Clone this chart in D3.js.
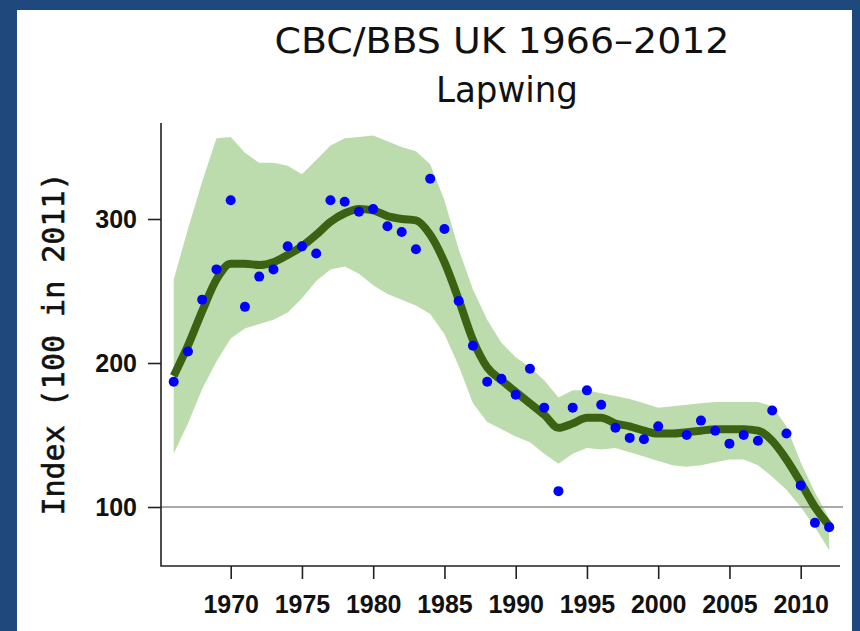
<!DOCTYPE html>
<html>
<head>
<meta charset="utf-8">
<script src="https://cdn.jsdelivr.net/npm/d3@7"></script>
<style>
  body { margin: 0; background: #1f497d; }
  #chart svg { display: block; }
</style>
</head>
<body>
<div id="chart"></div>
<script>
// years of the survey
var years = [1966, 1967, 1968, 1969, 1970, 1971, 1972, 1973, 1974, 1975,
             1976, 1977, 1978, 1979, 1980, 1981, 1982, 1983, 1984, 1985,
             1986, 1987, 1988, 1989, 1990, 1991, 1992, 1993, 1994, 1995,
             1996, 1997, 1998, 1999, 2000, 2001, 2002, 2003, 2004, 2005,
             2006, 2007, 2008, 2009, 2010, 2011, 2012];

// annual index (no survey in 2001)
var annual = [187, 208, 244, 265, 313, 239, 260, 265, 281, 281,
              276, 313, 312, 305, 307, 295, 291, 279, 328, 293,
              243, 212, 187, 189, 178, 196, 169, 111, 169, 181,
              171, 155, 148, 147, 156, null, 150, 160, 153, 144,
              150, 146, 167, 151, 115, 89, 86];

// smoothed trend
var smoothed = [191, 212, 236, 258, 269, 269, 268, 270, 275, 281,
                289, 298, 304, 307, 306, 302, 300, 299, 289, 270,
                244, 216, 197, 188, 180, 172, 164, 155, 158, 162,
                162, 158, 156, 153, 151, 151, 152, 153, 154, 154,
                154, 153, 146, 133, 117, 100, 87];

// confidence limits
var upper = [258, 293, 326, 356, 357, 346, 339, 339, 337, 331,
             341, 351, 356, 357, 358, 354, 350, 347, 338, 313,
             279, 251, 230, 214, 204, 197, 188, 176, 181, 181,
             179, 177, 175, 172, 169, 170, 171, 172, 173, 173,
             173, 173, 170, 156, 131, 110, 92];
var lower = [137, 158, 182, 201, 217, 224, 227, 230, 235, 245,
             257, 265, 267, 262, 254, 248, 244, 240, 234, 220,
             198, 172, 159, 154, 149, 145, 137, 130, 137, 141,
             140, 141, 138, 135, 132, 129, 128, 129, 131, 133,
             133, 129, 121, 112, 100, 86, 70];

var xTicks = [1970, 1975, 1980, 1985, 1990, 1995, 2000, 2005, 2010];
var yTicks = [100, 200, 300];

var W = 860, H = 631;
var frame = {left: 161, right: 840, top: 123, bottom: 566};

var svg = d3.select("#chart")
  .append("svg")
    .attr("width", W)
    .attr("height", H);

// blue border + white panel
svg.append("rect")
    .attr("width", W).attr("height", H)
    .attr("fill", "#1f497d");
svg.append("rect")
    .attr("x", 17).attr("y", 10)
    .attr("width", 835).attr("height", H - 10)
    .attr("fill", "#ffffff");

var x = d3.scaleLinear()
    .domain([1966, 2012])
    .range([173.7, 829.2]);

var y = d3.scaleLinear()
    .domain([100, 300])
    .range([507, 219]);

var rows = years.map(function(yr, i) {
  return {year: yr, val: annual[i], fit: smoothed[i], hi: upper[i], lo: lower[i]};
});

// confidence band
svg.append("path")
    .datum(rows)
    .attr("fill", "#bddcae")
    .attr("d", d3.area()
      .x(function(d) { return x(d.year); })
      .y0(function(d) { return y(d.lo); })
      .y1(function(d) { return y(d.hi); }));

// reference line at 100
svg.append("line")
    .attr("x1", frame.left).attr("x2", frame.right + 3)
    .attr("y1", y(100)).attr("y2", y(100))
    .attr("stroke", "#8c8c8c")
    .attr("stroke-width", 1.6);

// smoothed trend
svg.append("path")
    .datum(rows)
    .attr("fill", "none")
    .attr("stroke", "#3b6212")
    .attr("stroke-width", 8)
    .attr("stroke-linejoin", "round")
    .attr("d", d3.line()
      .curve(d3.curveMonotoneX)
      .x(function(d) { return x(d.year); })
      .y(function(d) { return y(d.fit); }));

// annual values
svg.selectAll("circle.pt")
    .data(rows.filter(function(d) { return d.val != null; }))
  .enter().append("circle")
    .attr("class", "pt")
    .attr("cx", function(d) { return x(d.year); })
    .attr("cy", function(d) { return y(d.val); })
    .attr("r", 5)
    .attr("fill", "#0000ff");

// axes
var xAxis = svg.append("g")
    .attr("transform", "translate(0," + frame.bottom + ")")
    .call(d3.axisBottom(x).tickValues(xTicks).tickFormat(d3.format("d"))
      .tickSize(13).tickPadding(16));
var yAxis = svg.append("g")
    .attr("transform", "translate(" + frame.left + ",0)")
    .call(d3.axisLeft(y).tickValues(yTicks).tickSize(13).tickPadding(11));

[xAxis, yAxis].forEach(function(g) {
  g.select(".domain").remove();
  g.selectAll(".tick line").attr("stroke", "#222").attr("stroke-width", 1.6);
  g.selectAll(".tick text")
    .attr("fill", "#111")
    .style("font-family", "'Liberation Sans', Arial, sans-serif")
    .style("font-weight", "bold")
    .style("font-size", "25px");
});

svg.append("path")
    .attr("d", "M" + frame.left + "," + frame.top + "V" + frame.bottom + "H" + frame.right)
    .attr("fill", "none")
    .attr("stroke", "#222")
    .attr("stroke-width", 1.6);

// titles
svg.append("text")
    .attr("x", 502).attr("y", 53)
    .attr("text-anchor", "middle")
    .attr("textLength", 455)
    .attr("lengthAdjust", "spacingAndGlyphs")
    .style("font-family", "'DejaVu Sans', Verdana, sans-serif")
    .style("font-size", "36px")
    .attr("fill", "#111")
    .text("CBC/BBS UK 1966\u20132012");
svg.append("text")
    .attr("x", 507).attr("y", 102)
    .attr("text-anchor", "middle")
    .attr("textLength", 142)
    .attr("lengthAdjust", "spacingAndGlyphs")
    .style("font-family", "'DejaVu Sans', Verdana, sans-serif")
    .style("font-size", "36px")
    .attr("fill", "#111")
    .text("Lapwing");

svg.append("text")
    .attr("transform", "translate(64,344) rotate(-90)")
    .attr("text-anchor", "middle")
    .style("font-family", "'DejaVu Sans Mono', 'Liberation Mono', monospace")
    .style("font-size", "30px")
    .attr("fill", "#111")
    .attr("stroke", "#111")
    .attr("stroke-width", 0.6)
    .text("Index (100 in 2011)");
</script>
</body>
</html>
